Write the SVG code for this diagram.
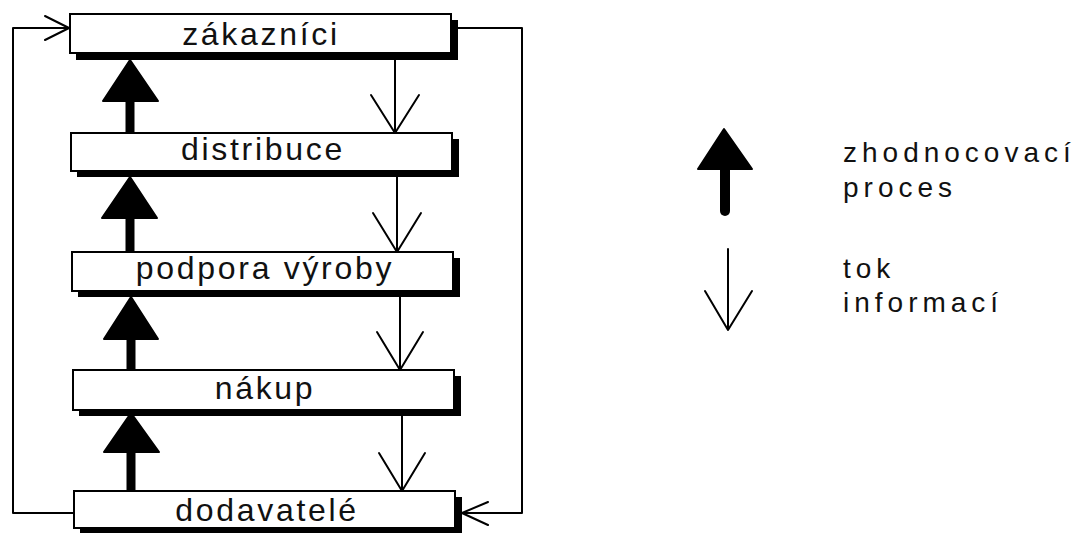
<svg xmlns="http://www.w3.org/2000/svg" width="1077" height="533" viewBox="0 0 1077 533">
<style>
.shadow{fill:#000}
.box{fill:#fff;stroke:#000;stroke-width:2}
.lbl{font-family:"Liberation Sans",Arial,sans-serif;font-size:32px;letter-spacing:2.7px;fill:#111;text-anchor:middle}
.leg{font-family:"Liberation Sans",Arial,sans-serif;font-size:28px;letter-spacing:5px;fill:#111}
.thin{fill:none;stroke:#000;stroke-width:2;stroke-linejoin:round;stroke-linecap:round}
.thick{fill:#000;stroke:#000;stroke-width:2;stroke-linejoin:round}
.shaft{stroke:#000;stroke-width:9;fill:none}
</style>
<rect width="1077" height="533" fill="#fff"/>
<g id="connectors">
  <path class="thin" d="M74 513 H13 V28 H69"/>
  <path class="thin" d="M45 16 L69 28 L45 40"/>
  <path class="thin" d="M458 28 H522 V513 H462"/>
  <path class="thin" d="M488 502 L462 513 L488 525"/>
  <line class="shaft" x1="130" y1="100" x2="130" y2="134"/>
  <path class="thick" d="M130 60 L158 101 L103 101 Z"/>
  <line class="shaft" x1="130" y1="216" x2="130" y2="253"/>
  <path class="thick" d="M130 177 L157 218 L102 218 Z"/>
  <line class="shaft" x1="131" y1="336" x2="131" y2="371"/>
  <path class="thick" d="M131 297 L158 339 L104 339 Z"/>
  <line class="shaft" x1="131" y1="450" x2="131" y2="492"/>
  <path class="thick" d="M131 413 L159 452 L104 452 Z"/>
  <path class="thin" d="M395 60 V133 M371 95 L395 133 L419 95"/>
  <path class="thin" d="M397 177 V252 M373 213 L397 252 L421 213"/>
  <path class="thin" d="M400 297 V370 M377 332 L400 370 L423 332"/>
  <path class="thin" d="M402 416 V491 M379 453 L402 491 L425 453"/>
</g>
<g id="zakaznici">
  <rect class="shadow" x="76" y="20" width="382" height="40"/>
  <rect class="box" x="70" y="14" width="381" height="39"/>
  <text class="lbl" x="261" y="45">zákazníci</text>
</g>
<g id="distribuce">
  <rect class="shadow" x="77" y="139" width="382" height="38"/>
  <rect class="box" x="71" y="133" width="381" height="38"/>
  <text class="lbl" x="263" y="160">distribuce</text>
</g>
<g id="podpora">
  <rect class="shadow" x="78" y="258" width="382" height="39"/>
  <rect class="box" x="72" y="252" width="381" height="39"/>
  <text class="lbl" x="265" y="279">podpora výroby</text>
</g>
<g id="nakup">
  <rect class="shadow" x="79" y="376" width="382" height="40"/>
  <rect class="box" x="73" y="370" width="381" height="40"/>
  <text class="lbl" x="265" y="399">nákup</text>
</g>
<g id="dodavatele">
  <rect class="shadow" x="80" y="497" width="382" height="38"/>
  <rect class="box" x="74" y="491" width="381" height="37"/>
  <text class="lbl" x="267" y="521">dodavatelé</text>
</g>
<g id="legend">
  <line x1="725" y1="165" x2="725" y2="211" stroke="#000" stroke-width="10" stroke-linecap="round"/>
  <path class="thick" d="M724 129 L752 169 L698 169 Z"/>
  <path class="thin" d="M728 249 V330 M705 291 L728 330 L752 291"/>
  <text class="leg" x="843" y="162">zhodnocovací</text>
  <text class="leg" x="843" y="197">proces</text>
  <text class="leg" x="843" y="278">tok</text>
  <text class="leg" x="843" y="312">informací</text>
</g>
</svg>
